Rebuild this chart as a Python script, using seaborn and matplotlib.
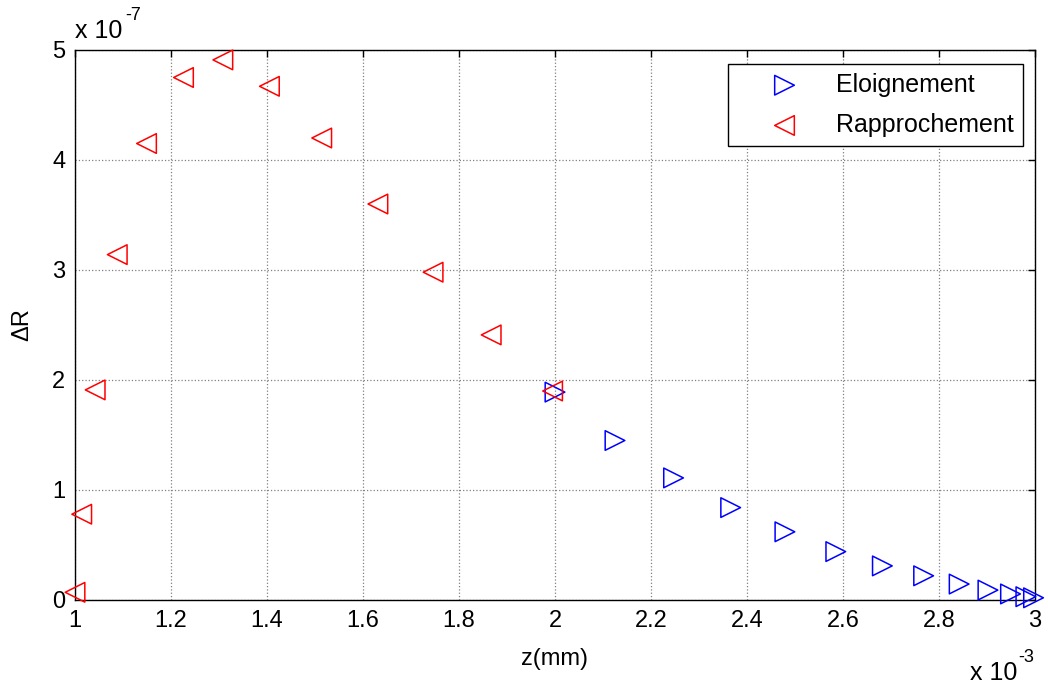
import matplotlib
matplotlib.use("Agg")
import matplotlib.pyplot as plt
import matplotlib.ticker as mticker
import seaborn as sns

# données (z en 1e-3, deltaR en 1e-7)
z_eloignement = [2.0, 2.125, 2.247, 2.366, 2.479, 2.585, 2.682, 2.768,
                 2.842, 2.902, 2.949, 2.981, 2.997]
dr_eloignement = [1.89, 1.45, 1.11, 0.84, 0.62, 0.44, 0.31, 0.22,
                  0.145, 0.09, 0.055, 0.03, 0.02]

z_rapprochement = [1.0, 1.014, 1.042, 1.088, 1.149, 1.226, 1.308, 1.405,
                   1.514, 1.631, 1.746, 1.867, 1.995]
dr_rapprochement = [0.07, 0.78, 1.91, 3.14, 4.15, 4.75, 4.91, 4.67,
                    4.20, 3.60, 2.98, 2.41, 1.90]

xticks = [1, 1.2, 1.4, 1.6, 1.8, 2, 2.2, 2.4, 2.6, 2.8, 3]
yticks = [0, 1, 2, 3, 4, 5]

sns.set_style("white")
plt.rcParams['font.family'] = ['Liberation Sans', 'DejaVu Sans']
plt.rcParams['text.color'] = 'black'
plt.rcParams['axes.labelcolor'] = 'black'

fig = plt.figure(figsize=(10.48, 6.89), dpi=100)
ax = fig.add_axes([75 / 1048, 89 / 689, 960 / 1048, 550 / 689])

sns.scatterplot(x=z_eloignement, y=dr_eloignement, marker='>', s=200,
                facecolor='none', edgecolor='blue', linewidth=1.1,
                label='Eloignement', ax=ax, clip_on=False, zorder=3)
sns.scatterplot(x=z_rapprochement, y=dr_rapprochement, marker='<', s=200,
                facecolor='none', edgecolor='red', linewidth=1.1,
                label='Rapprochement', ax=ax, clip_on=False, zorder=4)

ax.set_xlim(1, 3)
ax.set_ylim(0, 5)
ax.set_xticks(xticks)
ax.set_yticks(yticks)
ax.xaxis.set_major_formatter(mticker.FuncFormatter(lambda v, p: '%g' % v))
ax.yaxis.set_major_formatter(mticker.FuncFormatter(lambda v, p: '%g' % v))
ax.tick_params(direction='in', length=5, width=1, top=True, right=True,
               labelsize=17, colors='black', pad=7)
ax.grid(True, linestyle=':', color='#808080', linewidth=0.9)
for sp in ax.spines.values():
    sp.set_color('black')
    sp.set_linewidth(1)

ax.set_xlabel('z(mm)', fontsize=17)
ax.xaxis.set_label_coords(0.5, -0.087)
ax.set_ylabel('ΔR', fontsize=17)
ax.yaxis.set_label_coords(-0.043, 0.5)

# facteurs d'échelle façon MATLAB
fig.text(75 / 1048, 1 - 38 / 689, 'x 10', fontsize=18, ha='left', va='baseline')
fig.text(125 / 1048, 1 - 20 / 689, '-7', fontsize=13, ha='left', va='baseline')
fig.text(970 / 1048, 1 - 680 / 689, 'x 10', fontsize=18, ha='left', va='baseline')
fig.text(1018 / 1048, 1 - 662 / 689, '-3', fontsize=13, ha='left', va='baseline')

leg = ax.legend(loc='upper right', bbox_to_anchor=(0.9875, 0.9745),
                borderaxespad=0, fontsize=18, frameon=True, fancybox=False,
                edgecolor='black', framealpha=1, scatterpoints=1,
                handlelength=3.84, handletextpad=0.16, borderpad=0.35,
                labelspacing=0.65)
leg.get_frame().set_linewidth(1)

fig.savefig('out.png', dpi=100)
